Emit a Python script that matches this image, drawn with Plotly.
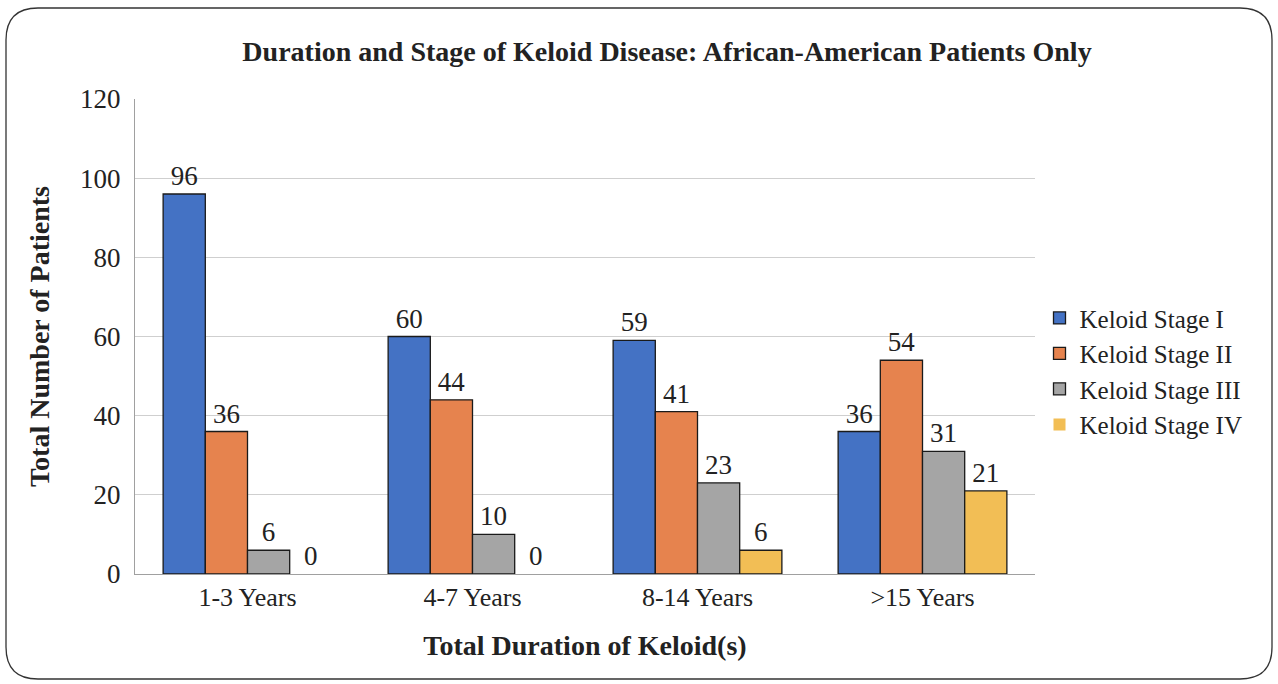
import plotly.graph_objects as go

categories = ['1-3 Years', '4-7 Years', '8-14 Years', '>15 Years']
stage_names = ['Keloid Stage I', 'Keloid Stage II', 'Keloid Stage III', 'Keloid Stage IV']
stage_1 = [96, 60, 59, 36]
stage_2 = [36, 44, 41, 54]
stage_3 = [6, 10, 23, 31]
stage_4 = [0, 0, 6, 21]
y_ticks = [0, 20, 40, 60, 80, 100, 120]

colors = ['#4472C4', '#E6834E', '#A5A5A5', '#F2BE55']
W, H = 1278, 684
L, R, T, B = 135, 243, 99, 110
font = 'Liberation Serif'

fig = go.Figure()
for name, vals, c in zip(stage_names, [stage_1, stage_2, stage_3, stage_4], colors):
    fig.add_trace(go.Bar(
        x=categories, y=vals, name=name,
        marker=dict(color=c, line=dict(color='#1a1a1a',
                                       width=[0 if v == 0 else 1.3 for v in vals])),
        text=vals, textposition='outside', cliponaxis=False,
        textfont=dict(size=27, color='#222'),
    ))

# rounded outer frame, converted from pixels to paper coords
pw, ph = W - L - R, H - T - B
def px(x): return (x - L) / pw
def py(y): return (H - B - y) / ph
x0, x1, y0, y1, r = 6, 1272, 8, 679, 32
path = (f"M {px(x0 + r)},{py(y0)} L {px(x1 - r)},{py(y0)} "
        f"Q {px(x1)},{py(y0)} {px(x1)},{py(y0 + r)} "
        f"L {px(x1)},{py(y1 - r)} Q {px(x1)},{py(y1)} {px(x1 - r)},{py(y1)} "
        f"L {px(x0 + r)},{py(y1)} Q {px(x0)},{py(y1)} {px(x0)},{py(y1 - r)} "
        f"L {px(x0)},{py(y0 + r)} Q {px(x0)},{py(y0)} {px(x0 + r)},{py(y0)} Z")
fig.add_shape(type='path', path=path, xref='paper', yref='paper',
              line=dict(color='#333', width=1.3))

fig.update_layout(
    width=W, height=H,
    margin=dict(l=L, r=R, t=T, b=B),
    paper_bgcolor='white', plot_bgcolor='white',
    font=dict(family=font, color='#222'),
    barmode='group', bargap=0.25, bargroupgap=0,
    title=dict(text='<b>Duration and Stage of Keloid Disease: African-American Patients Only</b>',
               x=667 / W, xanchor='center', y=0.925, yanchor='middle',
               font=dict(size=28, color='#222')),
    xaxis=dict(showline=True, linecolor='#A0A0A0', linewidth=1.2,
               tickfont=dict(size=26), ticks='',
               title=dict(text='<b>Total Duration of Keloid(s)</b>', font=dict(size=28), standoff=24)),
    yaxis=dict(range=[0, 120], tickvals=y_ticks, showgrid=True, gridcolor='#CFCFCF', gridwidth=1.2,
               showline=True, linecolor='#A0A0A0', linewidth=1.2, zeroline=False,
               tickfont=dict(size=27), ticks='', ticklabelstandoff=8,
               title=dict(text='<b>Total Number of Patients</b>', font=dict(size=28), standoff=22)),
    legend=dict(x=1.005, y=0.427, xanchor='left', yanchor='middle',
                font=dict(size=25), tracegroupgap=0, itemwidth=30,
                bgcolor='rgba(0,0,0,0)'),
    showlegend=True,
)

fig.write_html('out.html', config={'displayModeBar': False},
               post_script="document.body.style.margin='0';")
